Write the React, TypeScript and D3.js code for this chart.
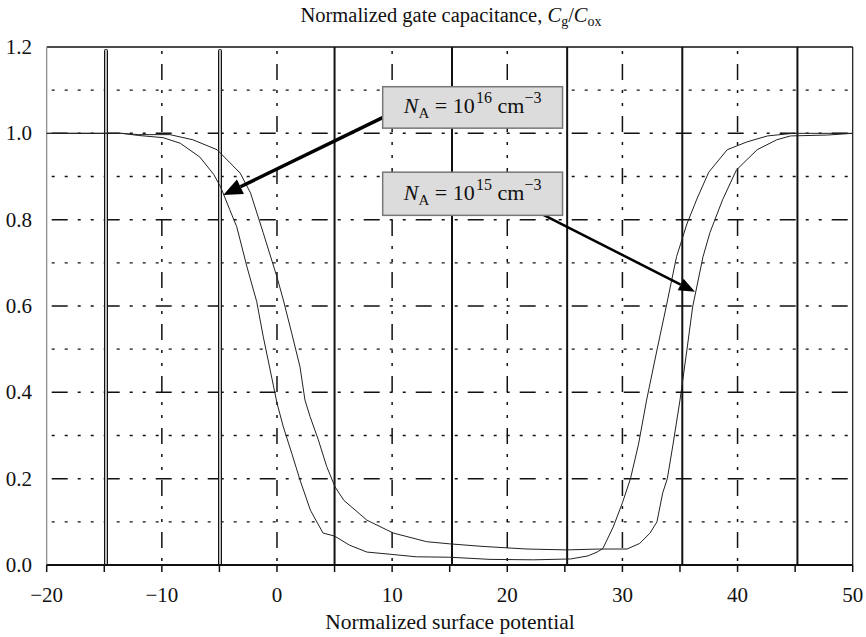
import React from "react";
import * as d3 from "d3";

// ---- data ----
const curveA_x = [-20, -13.5, -12, -9.9, -8.4, -6.7, -5.5, -4.9, -4.1, -3.5, -2.6, -1.76, -1.2, -0.5, 0, 0.55, 1.28, 2.0, 2.9, 4.0, 5.0, 6.3, 7.8, 9.8, 12.1, 15, 18.5, 22.3, 25.5, 27, 27.8, 28.3, 29.2, 30, 30.7, 31.4, 32.1, 33, 33.8, 34.7, 35.6, 36.5, 37.5, 39.1, 40.8, 42.6, 44.8, 50];
const curveA_y = [1.0, 1.0, 0.995, 0.99, 0.977, 0.945, 0.905, 0.876, 0.823, 0.784, 0.69, 0.61, 0.53, 0.44, 0.375, 0.32, 0.259, 0.197, 0.127, 0.074, 0.067, 0.046, 0.03, 0.025, 0.019, 0.018, 0.013, 0.012, 0.014, 0.021, 0.03, 0.038, 0.088, 0.144, 0.2, 0.28, 0.382, 0.498, 0.598, 0.714, 0.79, 0.85, 0.91, 0.962, 0.98, 0.994, 1.0, 1.0];

const curveB_x = [-20, -13.5, -12, -9.3, -7.3, -5.2, -3.2, -2.3, -1.2, 0, 0.55, 1.28, 2.0, 2.43, 2.87, 3.59, 4.32, 5.04, 5.8, 7.8, 10.1, 13, 15, 17.9, 21.7, 25.2, 28, 30.4, 31.5, 32.4, 33, 33.5, 33.9, 34.4, 35, 35.6, 36.1, 37, 37.6, 38.7, 39.9, 41.7, 43.4, 44.6, 47.8, 50];
const curveB_y = [1.0, 1.0, 0.997, 0.997, 0.985, 0.962, 0.908, 0.862, 0.77, 0.667, 0.614, 0.537, 0.459, 0.382, 0.344, 0.29, 0.228, 0.181, 0.15, 0.104, 0.074, 0.054, 0.049, 0.043, 0.037, 0.035, 0.037, 0.037, 0.05, 0.074, 0.1, 0.167, 0.2, 0.28, 0.382, 0.498, 0.598, 0.714, 0.77, 0.846, 0.915, 0.962, 0.985, 0.994, 0.996, 1.0];

const xTickValues = [-20, -10, 0, 10, 20, 30, 40, 50];
const xMinorTicks = [-20, -15, -10, -5, 0, 5, 10, 15, 20, 25, 30, 35, 40, 45, 50];
const yTickValues = [0, 0.2, 0.4, 0.6, 0.8, 1.0, 1.2];
const solidGridX = [5, 15.2, 25.2, 35.2, 45.2];
const doubleGridX = [-14.85, -4.95];
const dashDotGridX = [-10, 0, 10, 20, 30, 40];
const majorGridY = [0.2, 0.4, 0.6, 0.8, 1.0];
const minorGridY = [0.1, 0.3, 0.5, 0.7, 0.9, 1.1];

// annotation boxes (data coords) and arrow tips
const boxXRange = [9.18, 24.8];
const box16Y = [1.108, 1.012];
const box15Y = [0.91, 0.81];
const arrow16 = { from: [11, 1.06], to: [-4.66, 0.857] };
const arrow15 = { from: [21, 0.84], to: [36.3, 0.633] };

const W = 866;
const H = 637;
const FONT = "Liberation Serif, Times New Roman, serif";

function arrowHead(x1: number, y1: number, x2: number, y2: number, len: number, half: number) {
  const dx = x2 - x1, dy = y2 - y1;
  const L = Math.hypot(dx, dy);
  const ux = dx / L, uy = dy / L;
  const bx = x2 - ux * len, by = y2 - uy * len;
  const px = -uy, py = ux;
  return {
    pts: `${x2},${y2} ${bx + px * half},${by + py * half} ${bx - px * half},${by - py * half}`,
    bx, by,
  };
}

function NALabel({ x, y, exp }: { x: number; y: number; exp: string }) {
  return (
    <text x={x} y={y} textAnchor="middle" fontFamily={FONT} fontSize={22} fill="#111">
      <tspan fontStyle="italic">N</tspan>
      <tspan fontSize={15} dy={5}>A</tspan>
      <tspan dy={-5}>{" = 10"}</tspan>
      <tspan fontSize={16} dy={-10}>{"\u200A" + exp}</tspan>
      <tspan dy={10}>{"  cm"}</tspan>
      <tspan fontSize={16} dy={-10}>{"\u22123"}</tspan>
    </text>
  );
}

export default function App() {
  const x = d3.scaleLinear().domain([-20, 50]).range([46.7, 852.7]);
  const y = d3.scaleLinear().domain([0, 1.2]).range([565, 47]);
  const line = d3
    .line<[number, number]>()
    .x((d) => x(d[0]))
    .y((d) => y(d[1]));
  const dataA = curveA_x.map((v, i) => [v, curveA_y[i]] as [number, number]);
  const dataB = curveB_x.map((v, i) => [v, curveB_y[i]] as [number, number]);

  const top = y(1.2), bottom = y(0), left = x(-20), right = x(50);

  const a1x1 = x(arrow16.from[0]), a1y1 = y(arrow16.from[1]), a1x2 = x(arrow16.to[0]), a1y2 = y(arrow16.to[1]);
  const a2x1 = x(arrow15.from[0]), a2y1 = y(arrow15.from[1]), a2x2 = x(arrow15.to[0]), a2y2 = y(arrow15.to[1]);
  const h1 = arrowHead(a1x1, a1y1, a1x2, a1y2, 19, 8);
  const h2 = arrowHead(a2x1, a2y1, a2x2, a2y2, 16, 6.5);

  const fmtY = d3.format(".1f");
  const fmtX = (v: number) => (v < 0 ? "\u2212" + Math.abs(v) : String(v));

  return (
    <svg width={W} height={H} style={{ position: "absolute", left: 0, top: 0, background: "#fff" }}>
      <rect width={W} height={H} fill="#fff" />
      {/* minor horizontal dotted grid */}
      {minorGridY.map((v) => (
        <line key={"mg" + v} x1={left + 5} x2={right} y1={y(v)} y2={y(v)} stroke="#111" strokeWidth={1.3} strokeDasharray="3,10" />
      ))}
      {/* major horizontal dash-dot grid */}
      {majorGridY.map((v) => (
        <line key={"Mg" + v} x1={left + 5} x2={right} y1={y(v)} y2={y(v)} stroke="#111" strokeWidth={1.5} strokeDasharray="16,10,3,10,3,10" />
      ))}
      {/* vertical dash-dot grid */}
      {dashDotGridX.map((v) => (
        <line key={"dd" + v} x1={x(v)} x2={x(v)} y1={top + 4} y2={bottom} stroke="#111" strokeWidth={1.5} strokeDasharray="3,10,16,10,3,10" />
      ))}
      {/* vertical solid grid */}
      {solidGridX.map((v) => (
        <line key={"sg" + v} x1={x(v)} x2={x(v)} y1={top} y2={bottom} stroke="#111" strokeWidth={2} />
      ))}
      {/* vertical double grid */}
      {doubleGridX.map((v) => (
        <rect key={"db" + v} x={x(v) - 1.5} y={top + 2.5} width={3} height={bottom - top - 2.5} rx={1} fill="#bbb" stroke="#111" strokeWidth={1} />
      ))}
      {/* frame */}
      <line x1={left} x2={right} y1={top} y2={top} stroke="#111" strokeWidth={1.5} />
      <line x1={right} x2={right} y1={top} y2={bottom} stroke="#111" strokeWidth={1.2} />
      <line x1={left} x2={left} y1={top} y2={bottom} stroke="#888" strokeWidth={1.2} />
      <line x1={left} x2={right} y1={bottom} y2={bottom} stroke="#111" strokeWidth={2} />
      {xMinorTicks.map((v) => (
        <line key={"t" + v} x1={x(v)} x2={x(v)} y1={bottom} y2={bottom + 7} stroke="#111" strokeWidth={1.5} />
      ))}
      {/* curves */}
      <path d={line(dataA) || ""} fill="none" stroke="#222" strokeWidth={1} />
      <path d={line(dataB) || ""} fill="none" stroke="#222" strokeWidth={1} />
      {/* arrows */}
      <line x1={a1x1} y1={a1y1} x2={h1.bx} y2={h1.by} stroke="#000" strokeWidth={3.5} />
      <polygon points={h1.pts} fill="#000" />
      <line x1={a2x1} y1={a2y1} x2={h2.bx} y2={h2.by} stroke="#000" strokeWidth={2.5} />
      <polygon points={h2.pts} fill="#000" />
      {/* boxes */}
      <rect x={x(boxXRange[0])} y={y(box16Y[0])} width={x(boxXRange[1]) - x(boxXRange[0])} height={y(box16Y[1]) - y(box16Y[0])} fill="#dcdcdc" stroke="#777" strokeWidth={1.5} />
      <NALabel x={(x(boxXRange[0]) + x(boxXRange[1])) / 2} y={(y(box16Y[0]) + y(box16Y[1])) / 2 + 6} exp="16" />
      <rect x={x(boxXRange[0])} y={y(box15Y[0])} width={x(boxXRange[1]) - x(boxXRange[0])} height={y(box15Y[1]) - y(box15Y[0])} fill="#dcdcdc" stroke="#777" strokeWidth={1.5} />
      <NALabel x={(x(boxXRange[0]) + x(boxXRange[1])) / 2} y={(y(box15Y[0]) + y(box15Y[1])) / 2 + 6} exp="15" />
      {/* tick labels */}
      {yTickValues.map((v) => (
        <text key={"yl" + v} x={32} y={y(v) + 7} textAnchor="end" fontFamily={FONT} fontSize={21} fill="#111">
          {fmtY(v)}
        </text>
      ))}
      {xTickValues.map((v) => (
        <text key={"xl" + v} x={x(v)} y={602} textAnchor="middle" fontFamily={FONT} fontSize={21} fill="#111">
          {fmtX(v)}
        </text>
      ))}
      {/* axis titles */}
      <text x={450} y={629} textAnchor="middle" fontFamily={FONT} fontSize={21.5} fill="#111">
        Normalized surface potential
      </text>
      <text x={451} y={22} textAnchor="middle" fontFamily={FONT} fontSize={20.5} fill="#111">
        <tspan>{"Normalized gate capacitance, "}</tspan>
        <tspan fontStyle="italic">C</tspan>
        <tspan fontSize={14} dy={4}>g</tspan>
        <tspan dy={-4}>/</tspan>
        <tspan fontStyle="italic">C</tspan>
        <tspan fontSize={14} dy={4}>ox</tspan>
      </text>
    </svg>
  );
}
